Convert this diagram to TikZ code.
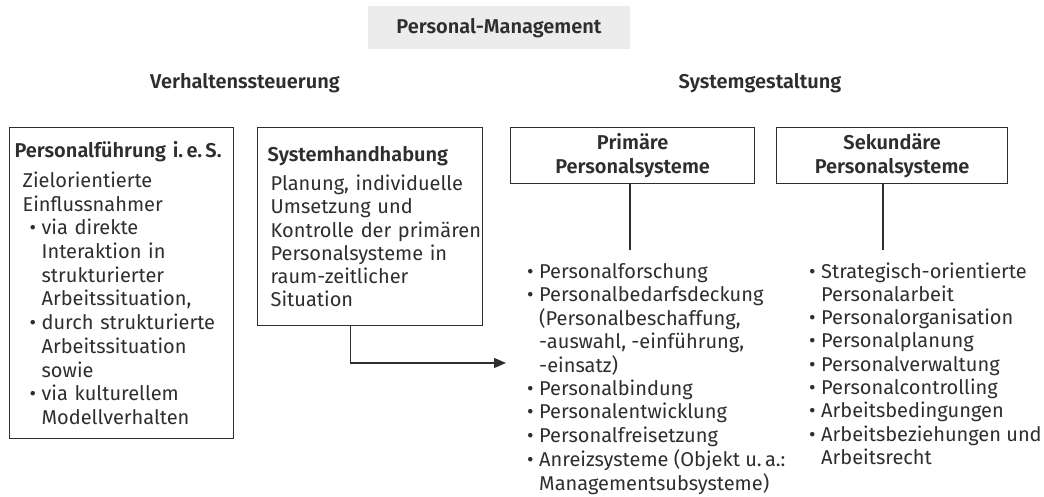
\documentclass[tikz,border=0pt]{standalone}
\usepackage{fontspec}
\setmainfont{Fira Sans}[BoldFont={Fira Sans SemiBold}]
\usepackage{tikz}
\usetikzlibrary{arrows,arrows.meta,positioning}
\definecolor{ink}{HTML}{2E2E2E}
\definecolor{titlegray}{HTML}{ECECEC}
% bullet with fixed width, hanging lines use \hang
\newcommand{\bul}{\makebox[12pt][l]{\textbullet}}
\newcommand{\hang}{\hspace*{12pt}}
\newcommand{\lst}[1]{\begin{tabular}[t]{@{}l@{}}#1\end{tabular}}

\begin{document}
\begin{tikzpicture}[x=1pt, y=-1pt, >={Triangle[length=12pt,width=10pt]},
    every node/.style={text=ink, font=\fontsize{20}{23.3}\selectfont},
    box/.style={draw=ink, line width=1.3pt, anchor=north west, inner sep=0pt},
    head/.style={font=\fontsize{20}{23.3}\selectfont\bfseries},
    itemlist/.style={anchor=base west, inner sep=0pt},
    wire/.style={draw=ink, line width=1.3pt}
    ]
\useasboundingbox (0,0) rectangle (1044,497);
% \draw[help lines, step=50] (0,0) grid (1044,497);

% title and column heads
\node[fill=titlegray, minimum width=262pt, minimum height=43pt, head] (title) at (499,28) {Personal-Management};
\node[head] (verh) at (245,83) {Verhaltenssteuerung};
\node[head] (syst) at (760,83) {Systemgestaltung};

% left column: the two boxes
\node[box, minimum width=224pt, minimum height=311pt, text width=224pt, align=left,
      font=\fontsize{20}{23.7}\selectfont] (fuehr) at (9,127)
{\hspace*{5pt}\textbf{Personalführung i.\,e.\,S.}\\[6pt]
 \hspace*{13pt}Zielorientierte\\
 \hspace*{13pt}Einflussnahmer\\
 \hspace*{20pt}\bul via direkte\\
 \hspace*{20pt}\hang Interaktion in\\
 \hspace*{20pt}\hang strukturierter\\
 \hspace*{20pt}\hang Arbeitssituation,\\
 \hspace*{20pt}\bul durch strukturierte\\
 \hspace*{20pt}\hang Arbeitssituation\\
 \hspace*{20pt}\hang sowie\\
 \hspace*{20pt}\bul via kulturellem\\
 \hspace*{20pt}\hang Modellverhalten};
\node[box, minimum width=225pt, minimum height=198pt, text width=225pt, align=left] (hand) at (257,127)
{\hspace*{10pt}\textbf{Systemhandhabung}\\[6pt]
 \hspace*{13pt}Planung, individuelle\\
 \hspace*{13pt}Umsetzung und\\
 \hspace*{13pt}Kontrolle der primären\\
 \hspace*{13pt}Personalsysteme in\\
 \hspace*{13pt}raum-zeitlicher\\
 \hspace*{13pt}Situation};

% right column: the two system boxes
\node[box, minimum width=244pt, minimum height=56pt, text width=244pt, align=center, head] (prim) at (510,127)
{Primäre\\Personalsysteme};
\node[box, minimum width=231pt, minimum height=56pt, text width=231pt, align=center, head] (sek) at (776,127)
{Sekundäre\\Personalsysteme};

% the lists under them
\node[itemlist] (primlist) at (527,278)
{\lst{\bul Personalforschung\\
 \bul Personalbedarfsdeckung\\
 \hang(Personalbeschaffung,\\
 \hang-auswahl, -einführung,\\
 \hang-einsatz)\\
 \bul Personalbindung\\
 \bul Personalentwicklung\\
 \bul Personalfreisetzung\\
 \bul Anreizsysteme (Objekt u.\,a.:\\
 \hang Managementsubsysteme)}};
\node[itemlist] (seklist) at (809,278)
{\lst{\bul Strategisch-orientierte\\
 \hang Personalarbeit\\
 \bul Personalorganisation\\
 \bul Personalplanung\\
 \bul Personalverwaltung\\
 \bul Personalcontrolling\\
 \bul Arbeitsbedingungen\\
 \bul Arbeitsbeziehungen und\\
 \hang Arbeitsrecht}};

\coordinate (primend) at (630,250);
\coordinate (sekend) at (883,250);
\coordinate (arrend) at (506,363);

\path
(prim.south -| primend) edge[wire] (primend)
(sek.south -| sekend) edge[wire] (sekend)
([xshift=-20pt]hand.south) edge[wire, ->, to path={|- (\tikztotarget)}] (arrend)
;
\end{tikzpicture}
\end{document}
